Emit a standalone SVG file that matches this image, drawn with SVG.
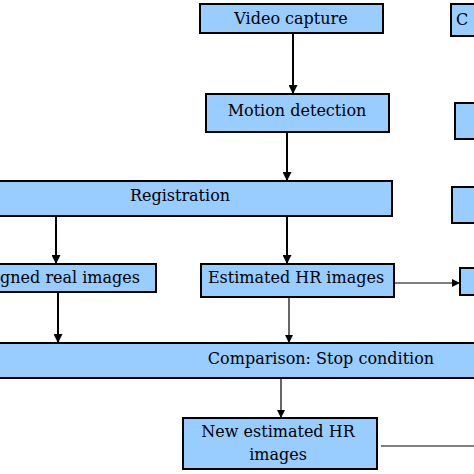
<svg xmlns="http://www.w3.org/2000/svg" width="474" height="474" viewBox="0 0 474 474">
<style>
.box{fill:#99ccff;stroke:#000;stroke-width:2}
.lbl{font-family:"DejaVu Serif","Liberation Serif",serif;font-size:16px;fill:#000;text-anchor:middle}
.c{stroke:#000;stroke-width:2;fill:none}
.t{stroke:#000;stroke-width:1.2;fill:none}
</style>
<defs>
<marker id="ah" viewBox="0 0 10 10" refX="10" refY="5" markerWidth="4.5" markerHeight="4.5" markerUnits="strokeWidth" orient="auto"><path d="M0,0L10,5L0,10z" fill="#000"/></marker>
<marker id="ah2" viewBox="0 0 10 10" refX="10" refY="5" markerWidth="7" markerHeight="7" markerUnits="strokeWidth" orient="auto"><path d="M0,0L10,5L0,10z" fill="#000"/></marker>
</defs>
<g id="connectors">
<line class="c" x1="293" y1="33" x2="293" y2="94" marker-end="url(#ah)"/>
<line class="c" x1="287" y1="132" x2="287" y2="181" marker-end="url(#ah)"/>
<line class="c" x1="56" y1="216" x2="56" y2="264" marker-end="url(#ah)"/>
<line class="c" x1="287" y1="216" x2="287" y2="264" marker-end="url(#ah)"/>
<line class="t" x1="394" y1="283" x2="460" y2="283" marker-end="url(#ah2)"/>
<line class="c" x1="58" y1="292" x2="58" y2="343" marker-end="url(#ah)"/>
<line class="t" x1="289" y1="297" x2="289" y2="343" marker-end="url(#ah2)"/>
<line class="t" x1="281" y1="373" x2="281" y2="418" marker-end="url(#ah2)"/>
<line class="t" x1="381" y1="446" x2="476" y2="446"/>
</g>
<g id="video-capture"><rect class="box" x="200" y="4" width="183" height="29"/><text class="lbl" x="291" y="24">Video capture</text></g>
<g id="motion-detection"><rect class="box" x="206" y="94" width="183" height="38"/><text class="lbl" x="297" y="116">Motion detection</text></g>
<g id="registration"><rect class="box" x="-5" y="181" width="397" height="35"/><text class="lbl" x="180" y="201">Registration</text></g>
<g id="aligned-real-images"><rect class="box" x="-5" y="264" width="161" height="28"/><text class="lbl" x="140" y="283" style="text-anchor:end">Aligned real images</text></g>
<g id="estimated-hr-images"><rect class="box" x="201" y="264" width="193" height="33"/><text class="lbl" x="296" y="283">Estimated HR images</text></g>
<g id="comparison"><rect class="box" x="-5" y="343" width="484" height="35"/><text class="lbl" x="321" y="364">Comparison: Stop condition</text></g>
<g id="new-estimated-hr"><rect class="box" x="183" y="418" width="194" height="51"/><text class="lbl" x="278" y="437">New estimated HR</text><text class="lbl" x="278" y="460">images</text></g>
<g id="right-1"><rect class="box" x="451" y="4" width="30" height="32"/><text class="lbl" x="456" y="25" style="text-anchor:start">C</text></g>
<g id="right-2"><rect class="box" x="455" y="103" width="30" height="36"/></g>
<g id="right-3"><rect class="box" x="452" y="187" width="30" height="36"/></g>
<g id="right-4"><rect class="box" x="460" y="268" width="30" height="27"/></g>
</svg>
